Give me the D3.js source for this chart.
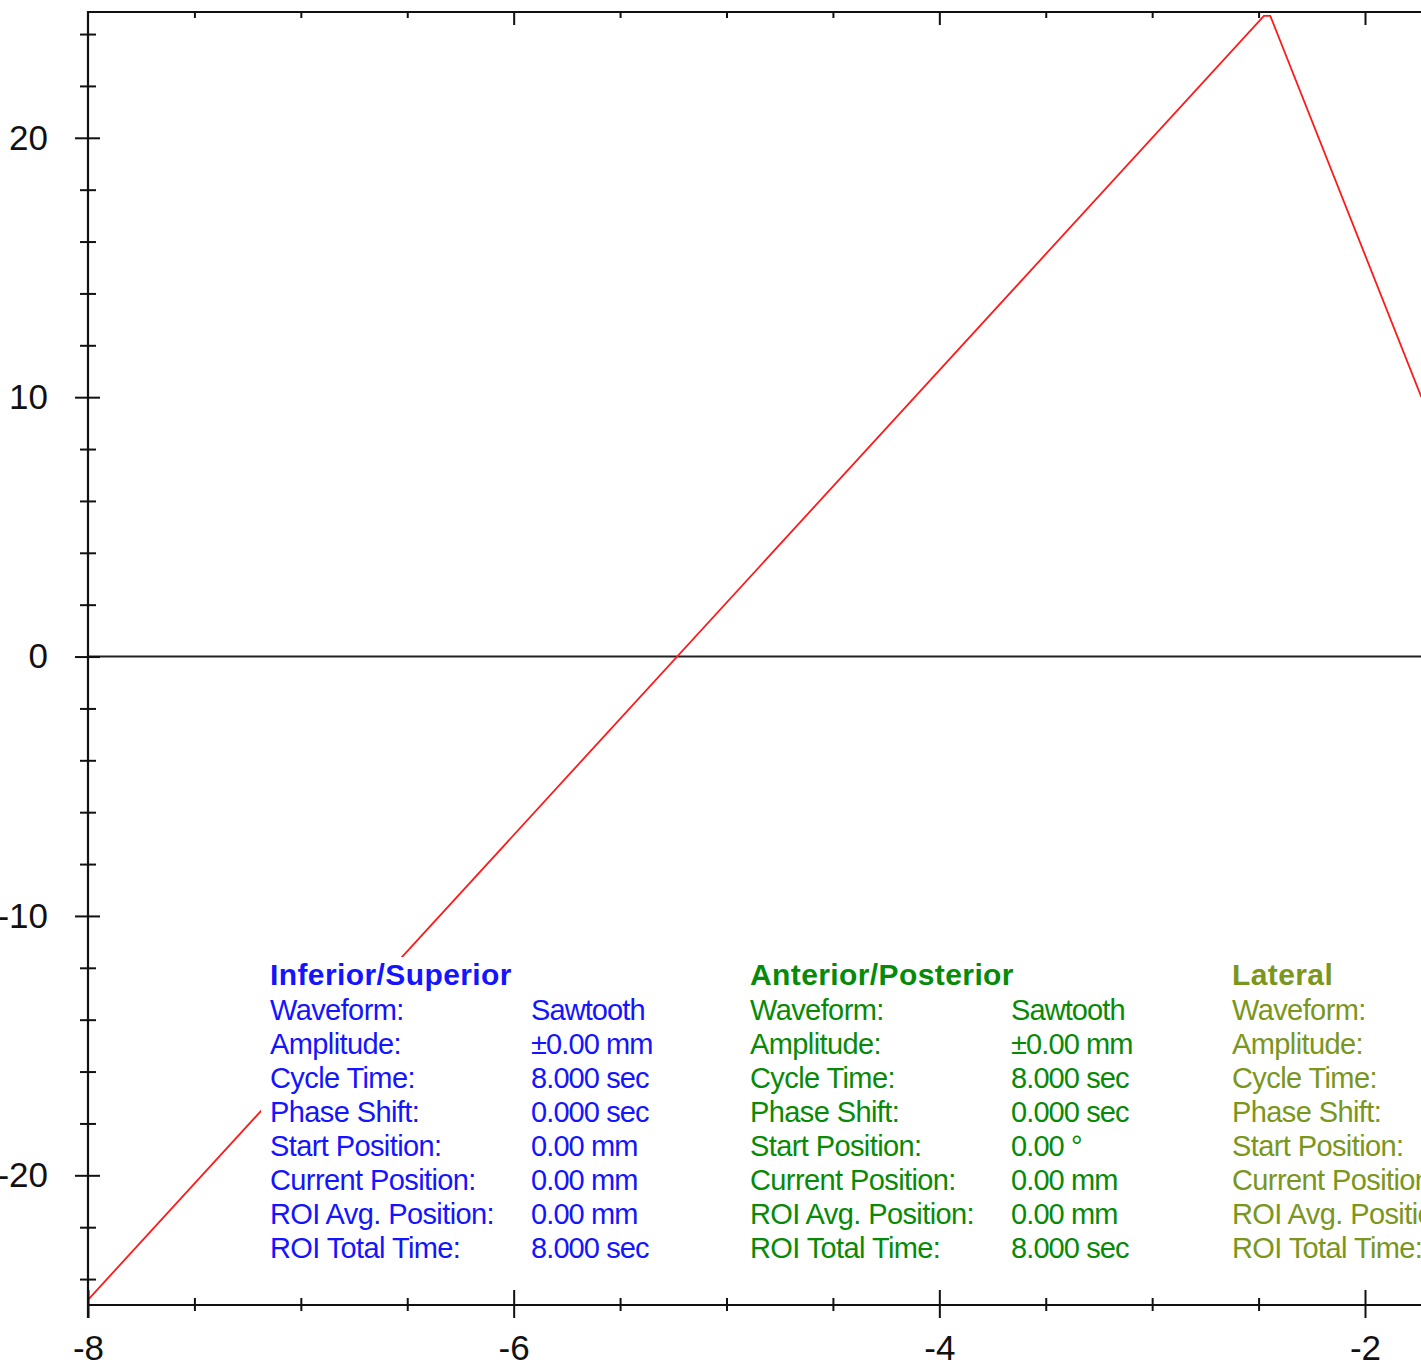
<!DOCTYPE html>
<html>
<head>
<meta charset="utf-8">
<script src="https://cdn.jsdelivr.net/npm/d3@7"></script>
<style>
  html, body { margin: 0; padding: 0; background: #fff; overflow: hidden; }
  svg { display: block; }
  .tick text { font-family: "Liberation Sans", Arial, sans-serif; }
</style>
</head>
<body>
<svg id="chart" width="1421" height="1362"></svg>
<script>
// Motion trace (mm) against time (sec)
const traceTime = [-8, -2.475, -2.445, -1.735];
const tracePos  = [-24.8, 24.7, 24.7, 10.0];

// Axis ticks
const xMajorTicks = [-8, -6, -4, -2];
const xMinorTicks = [-7.5, -7, -6.5, -5.5, -5, -4.5, -3.5, -3, -2.5];
const yMajorTicks = [-20, -10, 0, 10, 20];
const yMinorTicks = [-24, -22, -18, -16, -14, -12, -8, -6, -4, -2, 2, 4, 6, 8, 12, 14, 16, 18, 22, 24];

// Parameter panel
const axisTitles = ["Inferior/Superior", "Anterior/Posterior", "Lateral"];
const axisColors = ["#1414ff", "#078a07", "#7a961c"];
const paramLabels = ["Waveform:", "Amplitude:", "Cycle Time:", "Phase Shift:", "Start Position:", "Current Position:", "ROI Avg. Position:", "ROI Total Time:"];
const isValues = ["Sawtooth", "±0.00 mm", "8.000 sec", "0.000 sec", "0.00 mm", "0.00 mm", "0.00 mm", "8.000 sec"];
const apValues = ["Sawtooth", "±0.00 mm", "8.000 sec", "0.000 sec", "0.00 °", "0.00 mm", "0.00 mm", "8.000 sec"];
const latValues = [];
const paramValues = [isValues, apValues, latValues];

const svg = d3.select("#chart");
const W = 1421, H = 1362;

const x = d3.scaleLinear().domain([-8, -2]).range([88, 1365]);
const y = d3.scaleLinear().domain([-25, 24.85]).range([1305, 12]);

const xLeft = x(-8), xRight = W + 5;
const yTop = y(24.85), yBottom = y(-25);

const font = '"Liberation Sans", Arial, sans-serif';
const plainNumber = d => String(d);   // ASCII hyphen for negatives

// zero line
svg.append("line")
  .attr("x1", xLeft).attr("x2", xRight)
  .attr("y1", y(0)).attr("y2", y(0))
  .attr("stroke", "#222").attr("stroke-width", 2);

// trace
const line = d3.line().x((d, i) => x(traceTime[i])).y((d, i) => y(tracePos[i]));
svg.append("path")
  .attr("d", line(traceTime))
  .attr("fill", "none")
  .attr("stroke", "#ff1a1a")
  .attr("stroke-width", 1.8);

function styleAxis(g) {
  g.select(".domain").remove();
  g.selectAll(".tick line").attr("stroke", "#111").attr("stroke-width", 2);
  g.selectAll(".tick text").attr("fill", "#111").style("font-size", "35px").style("font-family", font);
}

// left axis: ticks cross the axis line
svg.append("g").attr("transform", `translate(${xLeft},0)`)
  .call(d3.axisLeft(y).tickValues(yMajorTicks).tickSize(13).tickPadding(27).tickFormat(plainNumber))
  .call(styleAxis);
svg.append("g").attr("transform", `translate(${xLeft},0)`)
  .call(d3.axisRight(y).tickValues(yMajorTicks).tickSize(12).tickFormat(""))
  .call(styleAxis);
svg.append("g").attr("transform", `translate(${xLeft},0)`)
  .call(d3.axisLeft(y).tickValues(yMinorTicks).tickSize(8).tickFormat(""))
  .call(styleAxis);
svg.append("g").attr("transform", `translate(${xLeft},0)`)
  .call(d3.axisRight(y).tickValues(yMinorTicks).tickSize(8).tickFormat(""))
  .call(styleAxis);

// bottom axis
svg.append("g").attr("transform", `translate(0,${yBottom})`)
  .call(d3.axisBottom(x).tickValues(xMajorTicks).tickSize(13).tickPadding(17).tickFormat(plainNumber))
  .call(styleAxis);
svg.append("g").attr("transform", `translate(0,${yBottom})`)
  .call(d3.axisTop(x).tickValues(xMajorTicks).tickSize(15).tickFormat(""))
  .call(styleAxis);
svg.append("g").attr("transform", `translate(0,${yBottom})`)
  .call(d3.axisBottom(x).tickValues(xMinorTicks).tickSize(6).tickFormat(""))
  .call(styleAxis);
svg.append("g").attr("transform", `translate(0,${yBottom})`)
  .call(d3.axisTop(x).tickValues(xMinorTicks).tickSize(7).tickFormat(""))
  .call(styleAxis);

// top axis: inward ticks only
svg.append("g").attr("transform", `translate(0,${yTop})`)
  .call(d3.axisBottom(x).tickValues(xMajorTicks.slice(1)).tickSize(13).tickFormat(""))
  .call(styleAxis);
svg.append("g").attr("transform", `translate(0,${yTop})`)
  .call(d3.axisBottom(x).tickValues(xMinorTicks).tickSize(6).tickFormat(""))
  .call(styleAxis);

// frame lines
svg.append("line").attr("x1", xLeft).attr("x2", xLeft).attr("y1", yTop - 1).attr("y2", yBottom + 13)
  .attr("stroke", "#111").attr("stroke-width", 2.2);
svg.append("line").attr("x1", xLeft - 1).attr("x2", xRight).attr("y1", yTop).attr("y2", yTop)
  .attr("stroke", "#111").attr("stroke-width", 2.2);
svg.append("line").attr("x1", xLeft - 1).attr("x2", xRight).attr("y1", yBottom).attr("y2", yBottom)
  .attr("stroke", "#111").attr("stroke-width", 2.2);

// parameter panel (opaque background over the trace)
const panel = svg.append("g");
panel.append("rect")
  .attr("x", 261).attr("y", 957)
  .attr("width", W - 261 + 10).attr("height", 312)
  .attr("fill", "#fff");

const colX = [270, 750, 1232];
const valueOffset = 261;
const titleBaseline = 985, firstRow = 1020, rowStep = 34;

axisTitles.forEach((title, c) => {
  const g = panel.append("g").attr("fill", axisColors[c]).style("font-family", font);
  g.append("text")
    .attr("x", colX[c]).attr("y", titleBaseline)
    .style("font-size", "30px").style("font-weight", "bold").style("letter-spacing", "0.4px")
    .text(title);
  paramLabels.forEach((lab, r) => {
    g.append("text")
      .attr("x", colX[c]).attr("y", firstRow + r * rowStep)
      .style("font-size", "29px").style("letter-spacing", "-0.6px")
      .text(lab);
  });
  paramValues[c].forEach((val, r) => {
    g.append("text")
      .attr("x", colX[c] + valueOffset).attr("y", firstRow + r * rowStep)
      .style("font-size", "29px").style("letter-spacing", "-0.9px")
      .text(val);
  });
});
</script>
</body>
</html>
